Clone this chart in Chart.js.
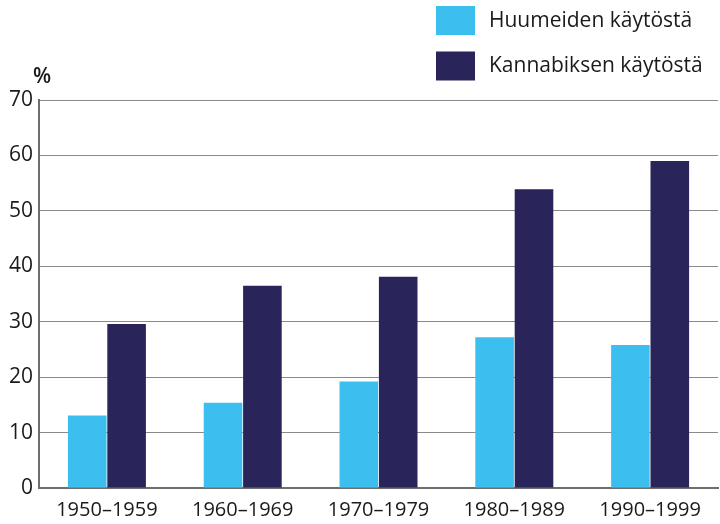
<!DOCTYPE html>
<html>
<head>
<meta charset="utf-8">
<script src="https://cdn.jsdelivr.net/npm/chart.js@4"></script>
<style>
  html, body { margin: 0; padding: 0; background: #fff; }
  #wrap { width: 720px; height: 524px; }
</style>
</head>
<body>
<div id="wrap"><canvas id="chart" width="720" height="524"></canvas></div>
<script>
const categories = ['1950–1959', '1960–1969', '1970–1979', '1980–1989', '1990–1999'];
const seriesNames = ['Huumeiden käytöstä', 'Kannabiksen käytöstä'];
const huumeet = [13.1, 15.4, 19.2, 27.2, 25.8];
const kannabis = [29.6, 36.5, 38.1, 53.9, 59.0];
const yTicks = [0, 10, 20, 30, 40, 50, 60, 70];
const colors = ['#3cbfef', '#29245a'];

const FONT = '"Open Sans", "Noto Sans", sans-serif';

// legend stacked in a column at the top right, plus the "%" unit label
const extras = {
  id: 'extras',
  afterDraw(chart) {
    const ctx = chart.ctx;
    ctx.save();
    ctx.font = '21px ' + FONT;
    ctx.textBaseline = 'middle';
    seriesNames.forEach((name, i) => {
      const y = 6 + i * 45.5;
      ctx.fillStyle = colors[i];
      ctx.fillRect(436, y, 39, 29);
      ctx.fillStyle = '#1a1a1a';
      ctx.textAlign = 'left';
      ctx.fillText(name, 489, y + 15);
    });
    ctx.font = '600 21px ' + FONT;
    ctx.textAlign = 'center';
    ctx.fillText('%', 42, 77);
    ctx.restore();
  }
};

new Chart(document.getElementById('chart'), {
  type: 'bar',
  data: {
    labels: categories,
    datasets: [
      { label: seriesNames[0], data: huumeet, backgroundColor: colors[0] },
      { label: seriesNames[1], data: kannabis, backgroundColor: colors[1] }
    ]
  },
  options: {
    responsive: false,
    animation: false,
    layout: { padding: { top: 100, right: 2, left: 3, bottom: -8 } },
    datasets: {
      bar: { categoryPercentage: 0.58, barPercentage: 0.98 }
    },
    plugins: {
      legend: { display: false },
      tooltip: { enabled: false }
    },
    scales: {
      x: {
        grid: { display: false, drawTicks: false },
        border: { color: '#6e6e6e', width: 2 },
        ticks: { color: '#1a1a1a', font: { family: FONT, size: 20, lineHeight: 1 }, padding: 12 }
      },
      y: {
        min: 0,
        max: 70,
        afterBuildTicks: axis => { axis.ticks = yTicks.map(v => ({ value: v })); },
        grid: { color: '#8a8a8a', lineWidth: 1, drawTicks: false },
        border: { color: '#6e6e6e', width: 2 },
        ticks: { color: '#1a1a1a', font: { family: FONT, size: 21 }, padding: 6 }
      }
    }
  },
  plugins: [extras]
});
</script>
</body>
</html>
